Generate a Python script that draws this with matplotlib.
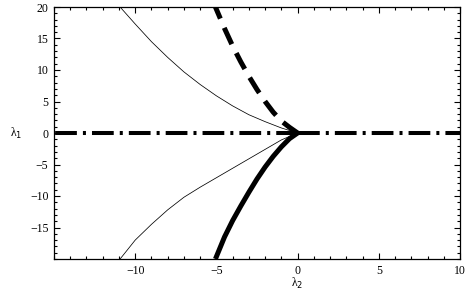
import matplotlib
matplotlib.use("Agg")
import matplotlib.pyplot as plt
from matplotlib.ticker import MultipleLocator, FixedLocator

# Curves (lambda2, lambda1), starting at the origin
dashed_l2 = [0, -0.5, -1, -1.5, -2, -2.5, -3, -3.5, -4, -4.5, -5.06]
dashed_l1 = [0, 0.9, 1.9, 3.3, 5.0, 6.9, 9.0, 11.3, 13.8, 16.6, 20.0]

solid_l2 = [0, -0.5, -1, -1.5, -2, -2.5, -3, -3.5, -4, -4.5, -5.06]
solid_l1 = [0, -0.9, -2.2, -3.7, -5.4, -7.3, -9.4, -11.6, -13.9, -16.5, -20.0]

thin_up_l2 = [0, -1, -2, -3, -4, -5, -6, -7, -8, -9, -10, -10.93]
thin_up_l1 = [0, 0.8, 1.8, 2.9, 4.3, 5.9, 7.7, 9.7, 12.0, 14.5, 17.3, 20.0]

thin_lo_l2 = [0, -1, -2, -3, -4, -5, -6, -7, -8, -9, -10, -10.93]
thin_lo_l1 = [0, -1.1, -2.6, -4.1, -5.6, -7.1, -8.6, -10.2, -12.2, -14.5, -17.0, -20.0]

axis_left_l2 = [0, -15]
axis_right_l2 = [0, 10]
axis_l1 = [0, 0]

xticks = [-10, -5, 0, 5, 10]
xticklabels = ["\u221210", "\u22125", "0", "5", "10"]
yticks = [-15, -10, -5, 0, 5, 10, 15, 20]
yticklabels = ["\u221215", "\u221210", "\u22125", "0", "5", "10", "15", "20"]

plt.rcParams['font.family'] = ['Liberation Serif', 'DejaVu Serif']

fig = plt.figure(figsize=(4.73, 2.96), dpi=100)
ax = fig.add_axes([54/473, 37/296, (460-54)/473, (259-7)/296])

ax.plot(thin_up_l2, thin_up_l1, color='black', lw=0.55)
ax.plot(thin_lo_l2, thin_lo_l1, color='black', lw=0.55)
ax.plot(solid_l2, solid_l1, color='black', lw=3.6, solid_capstyle='butt',
        solid_joinstyle='round')
ax.plot(dashed_l2, dashed_l1, color='black', lw=3.6, dashes=(3.6, 2.0),
        dash_capstyle='butt')
for xs in (axis_left_l2, axis_right_l2):
    ax.plot(xs, axis_l1, color='black', lw=2.9,
            dashes=(5.4, 1.5, 0.75, 1.5), dash_capstyle='butt')

ax.set_xlim(-15, 10)
ax.set_ylim(-20, 20)
ax.xaxis.set_major_locator(FixedLocator(xticks))
ax.set_xticklabels(xticklabels)
ax.yaxis.set_major_locator(FixedLocator(yticks))
ax.set_yticklabels(yticklabels)
ax.xaxis.set_minor_locator(MultipleLocator(1))
ax.yaxis.set_minor_locator(MultipleLocator(1))
ax.tick_params(which='both', direction='in', top=True, right=True,
               labelsize=8.5, width=0.8, pad=4)
ax.tick_params(which='major', length=4)
ax.tick_params(which='minor', length=2)
for s in ax.spines.values():
    s.set_linewidth(0.9)

ax.set_xlabel("\u03bb$_2$", fontsize=8.5, va='center', ha='center')
ax.set_ylabel("\u03bb$_1$", fontsize=8.5, rotation=0, va='center', ha='center')
ax.xaxis.set_label_coords((297-54)/406, -(283-259)/252)
ax.yaxis.set_label_coords(-(54-16)/406, 0.5)

fig.savefig("out.png", dpi=100)
